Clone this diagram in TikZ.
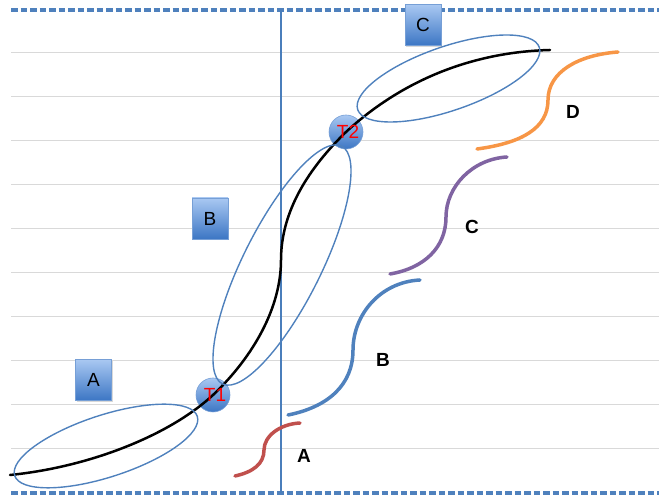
\documentclass[tikz,border=0pt]{standalone}
\usepackage{fontspec}
\setmainfont{Liberation Sans}
\usetikzlibrary{shadows}
\definecolor{gridgray}{HTML}{D9D9D9}
\definecolor{dashblue}{HTML}{4F81BD}
\definecolor{axisblue}{HTML}{4A7EBB}
\definecolor{ellblue}{HTML}{4F81BD}
\definecolor{cred}{HTML}{C0504D}
\definecolor{cblue}{HTML}{4F81BD}
\definecolor{cpurple}{HTML}{8064A2}
\definecolor{corange}{HTML}{F79646}
\definecolor{boxtop}{HTML}{A9C8F2}
\definecolor{boxbot}{HTML}{3C76C4}
\begin{document}
\begin{tikzpicture}[x=1pt,y=1pt,
 gridline/.style={gridgray, line width=1pt},
 dashline/.style={dashblue, line width=3.2pt, dash pattern=on 6.5pt off 3pt},
 axisline/.style={axisblue, line width=2pt},
 ell/.style={ellblue, line width=1.4pt},
 scurve/.style={line width=3.5pt, line cap=round},
 letterbox/.style={draw=boxbot!70!white, line width=0.6pt, top color=boxtop, bottom color=boxbot,
   minimum width=36pt, minimum height=41pt, inner sep=0pt, font=\fontsize{19}{20}\selectfont,
   drop shadow={shadow xshift=1pt, shadow yshift=-1.5pt, opacity=0.3}},
 tball/.style={circle, draw=boxbot!70!white, line width=0.6pt, top color=boxtop, bottom color=boxbot,
   minimum size=34pt, inner sep=0pt},
 tlabel/.style={text=red, font=\fontsize{19}{20}\selectfont, inner sep=0pt},
 clabel/.style={font=\bfseries\fontsize{19}{20}\selectfont, inner sep=0pt}
]
\useasboundingbox (0,0) rectangle (659,497);
% grid
\foreach \k in {0,...,9} \draw[gridline] (11,48+44.1*\k) -- (659,48+44.1*\k);
% dashed borders
\draw[dashline] (11,487) -- (659,487);
\draw[dashline] (11,4) -- (659,4);
% vertical axis
\coordinate (vtop) at (281,487);
\coordinate (vbot) at (281,4);
\draw[axisline] (vtop) -- (vbot);
% balls
\node[tball] (t1) at (213,102) {};
\node[tball] (t2) at (346,365) {};
% black curve
\coordinate (cstart) at (10,22);
\coordinate (cmid) at (281,237);
\coordinate (cend) at (550,447);
\draw[black, line width=2.5pt, line cap=round]
 (cstart) .. controls (90,30) and (170,62) .. (t1.center)
 .. controls (254,141) and (281,190) .. (cmid)
 .. controls (281,287) and (310,330) .. (t2.center)
 .. controls (400,415) and (470,445) .. (cend);
% ellipses
\draw[ell, rotate around={18:(106,51)}] (106,51) ellipse [x radius=96, y radius=31];
\draw[ell, rotate around={63.4:(282,232)}] (282,232) ellipse [x radius=133, y radius=39];
\draw[ell, rotate around={19:(448.5,418.5)}] (448.5,418.5) ellipse [x radius=96, y radius=32];
% ball labels
\node[tlabel] (t1txt) at ([xshift=2pt]t1.center) {T1};
\node[tlabel] (t2txt) at ([xshift=2pt]t2.center) {T2};
% boxes
\node[letterbox] (boxA) at (93.5,117) {A};
\node[letterbox] (boxB) at (210,278.5) {B};
\node[letterbox] (boxC) at (423,472) {C};
% S curves
\coordinate (sA) at (235,21); \coordinate (mA) at (264,47); \coordinate (eA) at (300,74);
\draw[scurve, cred] (sA) .. controls +(18,4) and +(0,-14) .. (mA) .. controls +(0,14) and +(-20,-1) .. (eA);
\coordinate (sB) at (288,82); \coordinate (mB) at (353,147); \coordinate (eB) at (420,217);
\draw[scurve, cblue] (sB) .. controls +(40,8) and +(0,-35) .. (mB) .. controls +(0,35) and +(-40,-2) .. (eB);
\coordinate (sC) at (390,223); \coordinate (mC) at (446,280); \coordinate (eC) at (507,340);
\draw[scurve, cpurple] (sC) .. controls +(35,6) and +(0,-30) .. (mC) .. controls +(0,30) and +(-35,-2) .. (eC);
\coordinate (sD) at (477,348); \coordinate (mD) at (548,397); \coordinate (eD) at (618,445);
\draw[scurve, corange] (sD) .. controls +(45,6) and +(0,-28) .. (mD) .. controls +(0,28) and +(-40,-3) .. (eD);
% curve labels
\node[clabel] (labA) at (304,41) {A};
\node[clabel] (labB) at (383,137) {B};
\node[clabel] (labC) at (472,270) {C};
\node[clabel] (labD) at (573,385) {D};
\end{tikzpicture}
\end{document}
